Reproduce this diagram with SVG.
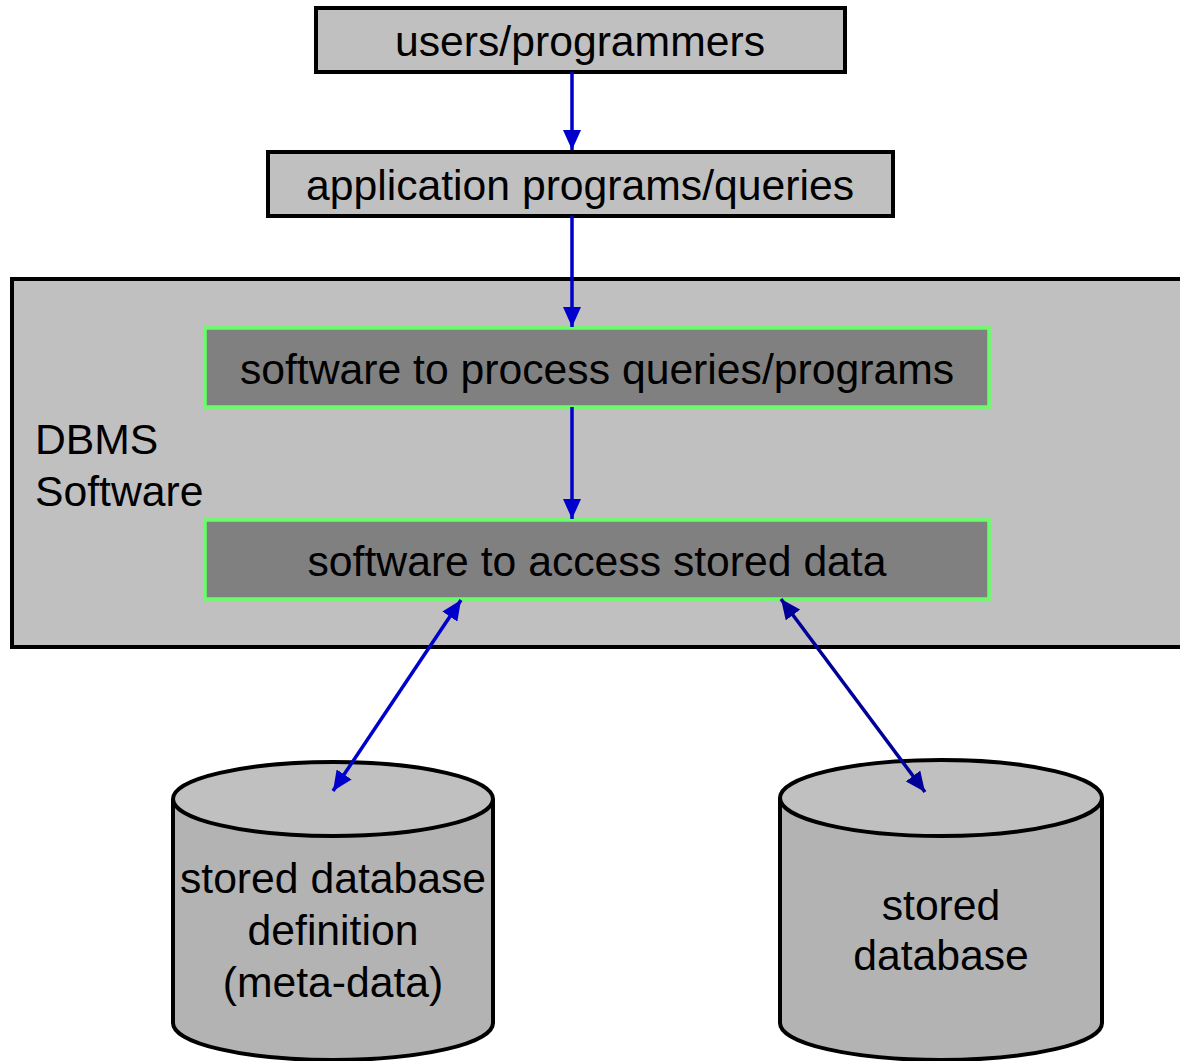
<svg xmlns="http://www.w3.org/2000/svg" width="1180" height="1061" viewBox="0 0 1180 1061">
<style>
text{font-family:"Liberation Sans",Arial,sans-serif;font-size:42.7px;fill:#000}
.c{text-anchor:middle}
.box{fill:#c0c0c0;stroke:#000;stroke-width:4}
.green{fill:#808080;stroke:#66ff66;stroke-width:3.5}
.cylbody{fill:#b3b3b3;stroke:#000;stroke-width:4}
.cyltop{fill:#c0c0c0;stroke:#000;stroke-width:4}
.a1{stroke:#0000cc;stroke-width:3.5;fill:none}
.a2{stroke:#000099;stroke-width:3.5;fill:none}
</style>
<defs>
<marker id="hb" markerUnits="userSpaceOnUse" markerWidth="20" markerHeight="18" refX="20" refY="9" orient="auto-start-reverse" viewBox="0 0 20 18"><path d="M0,0 L20,9 L0,18 z" fill="#0000cc"/></marker>
<marker id="hn" markerUnits="userSpaceOnUse" markerWidth="20" markerHeight="18" refX="20" refY="9" orient="auto-start-reverse" viewBox="0 0 20 18"><path d="M0,0 L20,9 L0,18 z" fill="#000099"/></marker>
</defs>
<rect width="1180" height="1061" fill="#fff"/>
<g id="users">
<rect class="box" x="316" y="8" width="529" height="64"/>
<text class="c" x="580" y="56">users/programmers</text>
</g>
<g id="apps">
<rect class="box" x="268" y="152" width="625" height="64"/>
<text class="c" x="580" y="200">application programs/queries</text>
</g>
<g id="dbms">
<rect x="12" y="279" width="1190" height="368" fill="#c0c0c0" stroke="#000" stroke-width="4"/>
<text x="35" y="454">DBMS</text>
<text x="35" y="506">Software</text>
</g>
<g id="process">
<rect class="green" x="205" y="328" width="784" height="79"/>
<text class="c" x="597" y="384">software to process queries/programs</text>
</g>
<g id="access">
<rect class="green" x="205" y="520" width="784" height="79"/>
<text class="c" x="597" y="576">software to access stored data</text>
</g>
<g id="metadata">
<path class="cylbody" d="M173,799 L173,1023 A160,37 0 0 0 493,1023 L493,799"/>
<ellipse class="cyltop" cx="333" cy="799" rx="160" ry="37"/>
<text class="c" x="333" y="893">stored database</text>
<text class="c" x="333" y="945">definition</text>
<text class="c" x="333" y="997">(meta-data)</text>
</g>
<g id="database">
<path class="cylbody" d="M780,798 L780,1023 A161,37 0 0 0 1102,1023 L1102,798"/>
<ellipse class="cyltop" cx="941" cy="798" rx="161" ry="38"/>
<text class="c" x="941" y="920">stored</text>
<text class="c" x="941" y="970">database</text>
</g>
<g id="connectors">
<line class="a1" x1="572" y1="72" x2="572" y2="150" marker-end="url(#hb)"/>
<line class="a1" x1="572" y1="216" x2="572" y2="327" marker-end="url(#hb)"/>
<line class="a1" x1="572" y1="407" x2="572" y2="519" marker-end="url(#hb)"/>
<line class="a1" x1="461" y1="600" x2="333" y2="791" marker-start="url(#hb)" marker-end="url(#hb)"/>
<line class="a2" x1="781" y1="599" x2="925" y2="792" marker-start="url(#hn)" marker-end="url(#hn)"/>
</g>
</svg>
